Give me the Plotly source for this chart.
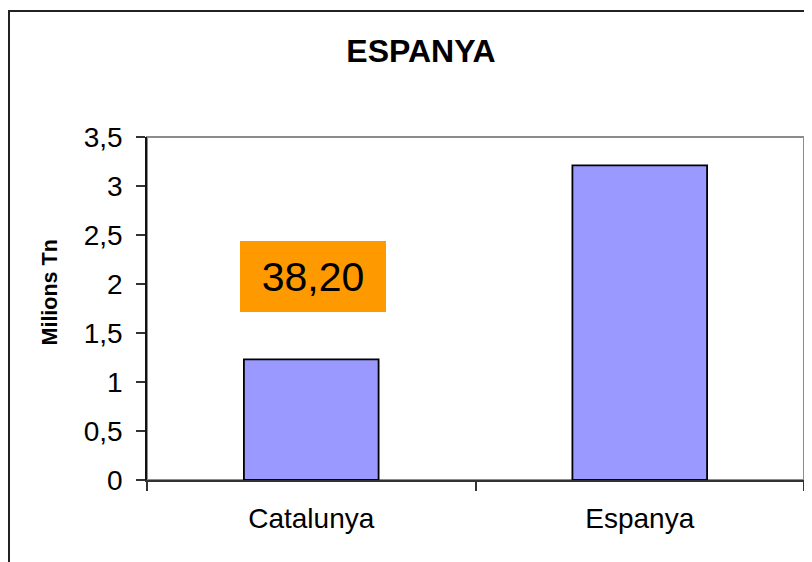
import plotly.graph_objects as go

# Data
categories = ["Catalunya", "Espanya"]
values = [1.23, 3.21]
y_ticks = [0, 0.5, 1, 1.5, 2, 2.5, 3, 3.5]
y_tick_labels = ["0", "0,5", "1", "1,5", "2", "2,5", "3", "3,5"]
box_label = "38,20"
box_value_y = 2.077
title_text = "ESPANYA"
y_title = "Milions Tn"

# page body has an 8px margin; figure is placed at (8, 8)
OFF = 8
W, H = 812 - OFF, 562 - OFF
L, R, T, B = 147 - OFF, 8, 137 - OFF, 82
pw = W - L - R
ph = H - T - B

FONT = "Arial, Liberation Sans, sans-serif"

fig = go.Figure()
fig.add_trace(go.Bar(
    x=categories, y=values, width=0.41,
    marker=dict(color="#9999FF", line=dict(color="#000000", width=1.8)),
    hoverinfo="skip",
))

shapes = [
    dict(type="rect", xref="paper", yref="paper", x0=0, x1=1, y0=0, y1=1,
         line=dict(color="#8c8c8c", width=2), layer="below"),
    dict(type="rect", xref="paper", yref="paper",
         x0=(1 - L) / pw, x1=1.2, y0=-0.6, y1=(H - B - 3) / ph,
         line=dict(color="#222222", width=2), layer="below"),
]

annotations = [
    dict(text=box_label, x=categories[0], y=box_value_y, xref="x", yref="y",
         showarrow=False, bgcolor="#FF9900", width=146, height=71,
         borderpad=0, borderwidth=0, xshift=2,
         font=dict(family=FONT, size=41, color="#000000")),
    dict(text="<b>" + y_title + "</b>", textangle=-90, showarrow=False,
         xref="paper", yref="paper", x=(49.5 - 147) / pw, y=(480 - 293) / ph,
         xanchor="center", yanchor="middle",
         font=dict(family=FONT, size=21.5, color="#000000")),
]

fig.update_layout(
    width=W, height=H,
    margin=dict(l=L, r=R, t=T, b=B),
    paper_bgcolor="#ffffff", plot_bgcolor="#ffffff",
    showlegend=False,
    title=dict(text="<b>" + title_text + "</b>", x=(421 - OFF) / W, xref="container",
               y=1 - (51 - OFF) / H, yref="container", xanchor="center", yanchor="middle",
               font=dict(family=FONT, size=32, color="#000000")),
    shapes=shapes,
    annotations=annotations,
    xaxis=dict(
        type="category", range=[-0.5, 1.5], showgrid=False, zeroline=False,
        showline=True, linecolor="#333333", linewidth=2,
        ticks="outside", tickson="boundaries", ticklen=9, tickcolor="#333333",
        tickwidth=1.5,
        tickfont=dict(family=FONT, size=28, color="#000000"),
        ticklabelstandoff=12,
    ),
    yaxis=dict(
        range=[0, 3.5], showgrid=False, zeroline=False,
        showline=True, linecolor="#111111", linewidth=1.5,
        ticks="outside", ticklen=9, tickcolor="#333333", tickwidth=1.5,
        tickvals=y_ticks, ticktext=y_tick_labels,
        tickfont=dict(family=FONT, size=28, color="#000000"),
        ticklabelstandoff=8,
    ),
    bargap=0.59,
)

fig.write_html("out.html")
